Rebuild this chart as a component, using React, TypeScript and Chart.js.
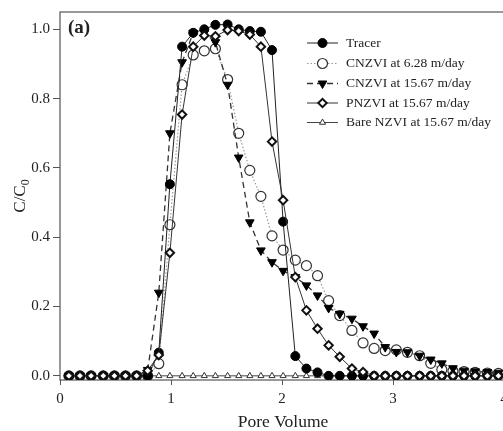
import React, { useEffect, useRef } from 'react';
import { Chart, registerables } from 'chart.js';
import { drawPoint } from 'chart.js/helpers';

Chart.register(...registerables);

const poreVolume = [0.08, 0.18, 0.28, 0.39, 0.49, 0.59, 0.69, 0.79, 0.89, 0.99, 1.10, 1.20, 1.30, 1.40, 1.51, 1.61, 1.71, 1.81, 1.91, 2.01, 2.12, 2.22, 2.32, 2.42, 2.52, 2.63, 2.73, 2.83, 2.93, 3.03, 3.13, 3.24, 3.34, 3.44, 3.54, 3.64, 3.74, 3.85, 3.95];

const tracer = [0, 0, 0, 0, 0, 0, 0, 0, 0.067, 0.553, 0.95, 0.99, 1.0, 1.013, 1.014, 1.0, 0.995, 0.993, 0.94, 0.445, 0.057, 0.021, 0.01, 0, 0, 0, 0, 0, 0, 0, 0, 0, 0, 0, 0, 0, 0, 0, 0];

const cnzvi628 = [0, 0, 0, 0, 0, 0, 0, 0, 0.035, 0.436, 0.84, 0.926, 0.938, 0.944, 0.855, 0.70, 0.593, 0.518, 0.404, 0.363, 0.334, 0.318, 0.289, 0.217, 0.174, 0.131, 0.095, 0.079, 0.073, 0.075, 0.068, 0.058, 0.036, 0.018, 0.014, 0.012, 0.010, 0.008, 0.007];

const cnzvi1567 = [0, 0, 0, 0, 0, 0, 0, 0.017, 0.24, 0.70, 0.905, 0.99, 0.99, 0.963, 0.84, 0.63, 0.443, 0.362, 0.328, 0.303, 0.285, 0.261, 0.232, 0.196, 0.179, 0.165, 0.143, 0.122, 0.083, 0.069, 0.068, 0.058, 0.047, 0.036, 0.022, 0.015, 0.013, 0.011, 0.009];

const pnzvi1567 = [0, 0, 0, 0, 0, 0, 0, 0.015, 0.06, 0.355, 0.754, 0.95, 0.982, 0.98, 0.998, 0.995, 0.985, 0.95, 0.676, 0.507, 0.285, 0.189, 0.136, 0.088, 0.055, 0.021, 0.011, 0, 0, 0, 0, 0, 0, 0, 0, 0, 0, 0, 0];

const bareNzvi = [0, 0, 0, 0, 0, 0, 0, 0, 0, 0, 0, 0, 0, 0, 0, 0, 0, 0, 0, 0, 0, 0, 0, 0, 0, 0, 0, 0, 0, 0, 0, 0, 0, 0, 0, 0, 0, 0, 0];

const seriesLabels = ['Tracer', 'CNZVI at 6.28 m/day', 'CNZVI at 15.67 m/day', 'PNZVI at 15.67 m/day', 'Bare NZVI at 15.67 m/day'];

const xTicks = [0, 1, 2, 3, 4];
const yTicks = [0.0, 0.2, 0.4, 0.6, 0.8, 1.0];

const SERIF = '"Liberation Serif", "Times New Roman", serif';

const toPoints = (ys: number[]) => ys.map((y, i) => ({ x: poreVolume[i], y }));

const decorPlugin = {
  id: 'decor',
  beforeDatasetsDraw(chart: any) {
    const { ctx, chartArea: a } = chart;
    ctx.save();
    ctx.strokeStyle = '#555';
    ctx.lineWidth = 1.2;
    ctx.strokeRect(a.left, a.top, a.right - a.left, a.bottom - a.top);
    ctx.restore();
  },
  afterDraw(chart: any) {
    const { ctx, chartArea: a } = chart;
    ctx.save();
    ctx.fillStyle = '#222';
    ctx.textBaseline = 'middle';
    ctx.textAlign = 'left';
    ctx.font = `bold 19px ${SERIF}`;
    ctx.fillText('(a)', 68, 28);

    // legend, in the order of seriesLabels
    const rows = [43, 63.5, 83.5, 103, 122.5];
    const x1 = 307, x2 = 338, xm = 322.5, tx = 346;
    ctx.font = `13.5px ${SERIF}`;
    const sorted = [...chart.data.datasets].sort(
      (p: any, q: any) => seriesLabels.indexOf(p.label) - seriesLabels.indexOf(q.label)
    );
    sorted.forEach((ds: any, i: number) => {
      const y = rows[i];
      ctx.save();
      ctx.strokeStyle = ds.borderColor;
      ctx.lineWidth = ds.borderWidth;
      ctx.setLineDash(ds.borderDash || []);
      ctx.beginPath();
      ctx.moveTo(x1, y);
      ctx.lineTo(x2, y);
      ctx.stroke();
      ctx.setLineDash([]);
      ctx.fillStyle = ds.pointBackgroundColor;
      ctx.strokeStyle = ds.pointBorderColor;
      ctx.lineWidth = ds.pointBorderWidth;
      drawPoint(ctx, { pointStyle: ds.pointStyle, rotation: ds.pointRotation || 0, radius: ds.pointRadius, borderWidth: ds.pointBorderWidth }, xm, y);
      ctx.restore();
      ctx.fillStyle = '#222';
      ctx.fillText(ds.label, tx, y);
    });

    // y title C/C0
    ctx.save();
    ctx.translate(21, (a.top + a.bottom) / 2);
    ctx.rotate(-Math.PI / 2);
    ctx.font = `17px ${SERIF}`;
    const main = 'C/C';
    const wMain = ctx.measureText(main).width;
    ctx.font = `12px ${SERIF}`;
    const wSub = ctx.measureText('0').width;
    const start = -(wMain + wSub) / 2;
    ctx.font = `17px ${SERIF}`;
    ctx.textAlign = 'left';
    ctx.fillText(main, start, 0);
    ctx.font = `12px ${SERIF}`;
    ctx.fillText('0', start + wMain, 5);
    ctx.restore();

    // x title
    ctx.font = `17.5px ${SERIF}`;
    ctx.textAlign = 'center';
    ctx.fillText('Pore Volume', 283, 422);
    ctx.restore();
  },
};

export default function App() {
  const ref = useRef<HTMLCanvasElement | null>(null);
  useEffect(() => {
    if (!ref.current) return;
    const chart = new Chart(ref.current, {
      type: 'line',
      data: {
        datasets: [
          {
            label: seriesLabels[3],
            data: toPoints(pnzvi1567),
            borderColor: '#333',
            borderWidth: 1,
            pointStyle: 'rectRot',
            pointRadius: 4.2,
            pointBackgroundColor: '#fff',
            pointBorderColor: '#111',
            pointBorderWidth: 2,
            order: 1,
          },
          {
            label: seriesLabels[0],
            data: toPoints(tracer),
            borderColor: '#222',
            borderWidth: 1,
            pointStyle: 'circle',
            pointRadius: 4.5,
            pointBackgroundColor: '#000',
            pointBorderColor: '#000',
            pointBorderWidth: 1,
            order: 2,
          },
          {
            label: seriesLabels[2],
            data: toPoints(cnzvi1567),
            borderColor: '#333',
            borderWidth: 1.3,
            borderDash: [6, 4],
            pointStyle: 'triangle',
            pointRotation: 180,
            pointRadius: 5,
            pointBackgroundColor: '#000',
            pointBorderColor: '#000',
            pointBorderWidth: 1,
            order: 3,
          },
          {
            label: seriesLabels[1],
            data: toPoints(cnzvi628),
            borderColor: '#999',
            borderWidth: 1.2,
            borderDash: [1.5, 2],
            pointStyle: 'circle',
            pointRadius: 5,
            pointBackgroundColor: '#fff',
            pointBorderColor: '#333',
            pointBorderWidth: 1.2,
            order: 4,
          },
          {
            label: seriesLabels[4],
            data: toPoints(bareNzvi),
            borderColor: '#444',
            borderWidth: 1,
            pointStyle: 'triangle',
            pointRadius: 3.5,
            pointBackgroundColor: '#fff',
            pointBorderColor: '#333',
            pointBorderWidth: 1,
            order: 5,
          },
        ],
      },
      options: {
        animation: false,
        responsive: false,
        devicePixelRatio: 1,
        layout: { padding: { left: 0, right: 16, top: 11, bottom: 0 } },
        plugins: { legend: { display: false }, tooltip: { enabled: false } },
        scales: {
          x: {
            type: 'linear',
            min: 0,
            max: 4,
            afterFit: (s: any) => { s.height = 51; },
            afterBuildTicks: (s: any) => { s.ticks = xTicks.map((v) => ({ value: v })); },
            ticks: { font: { family: SERIF, size: 15 }, color: '#222', padding: 5, callback: (v: any) => String(v) },
            grid: { drawOnChartArea: false, tickLength: 5, color: '#555' },
            border: { display: false },
          },
          y: {
            type: 'linear',
            min: -0.012,
            max: 1.05,
            afterFit: (s: any) => { s.width = 60; },
            afterBuildTicks: (s: any) => { s.ticks = yTicks.map((v) => ({ value: v })); },
            ticks: { font: { family: SERIF, size: 15 }, color: '#222', padding: 3, callback: (v: any) => Number(v).toFixed(1) },
            grid: { drawOnChartArea: false, tickLength: 7, color: '#555' },
            border: { display: false },
          },
        },
      },
      plugins: [decorPlugin],
    } as any);
    return () => chart.destroy();
  }, []);
  return (
    <div style={{ position: 'fixed', left: 0, top: 0, width: 503, height: 431, overflow: 'hidden', background: '#fff' }}>
      <canvas ref={ref} width={520} height={431} style={{ display: 'block' }} />
    </div>
  );
}
